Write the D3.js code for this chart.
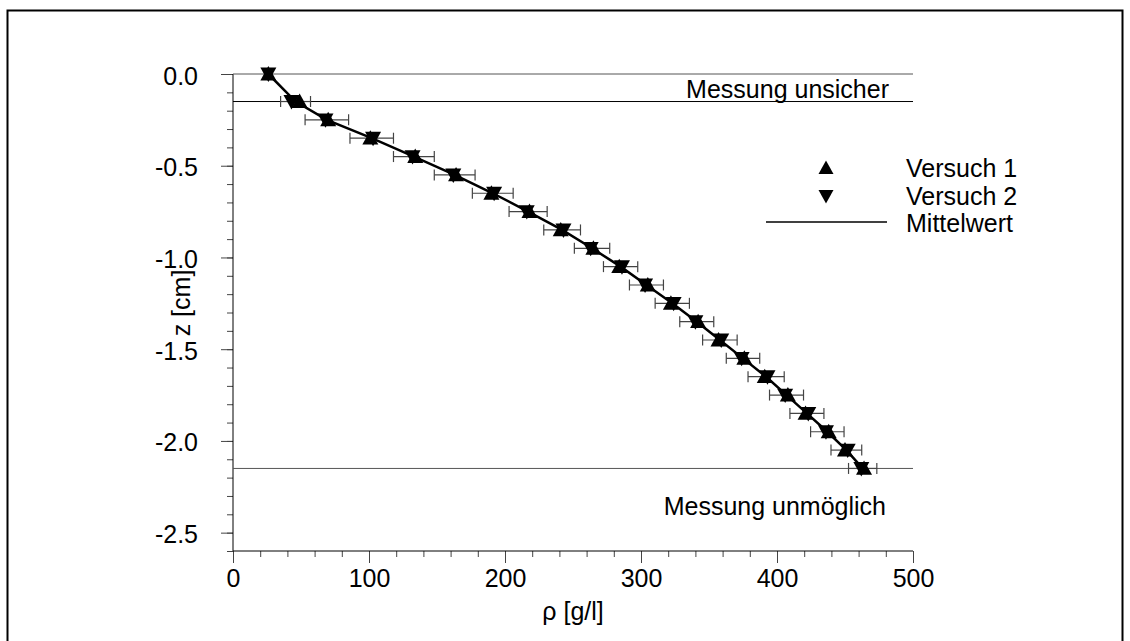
<!DOCTYPE html>
<html>
<head>
<meta charset="utf-8">
<script src="https://cdn.jsdelivr.net/npm/d3@7"></script>
<style>
  body { margin: 0; background: #fff; }
  svg { font-family: "Liberation Sans", Arial, sans-serif; }
</style>
</head>
<body>
<div id="chart"></div>
<script>
// Depth below surface (cm) for each measurement
const depths = [0, -0.15, -0.25, -0.35, -0.45, -0.55, -0.65, -0.75, -0.85, -0.95, -1.05,
  -1.15, -1.25, -1.35, -1.45, -1.55, -1.65, -1.75, -1.85, -1.95, -2.05, -2.15];
// Density readings (g/l)
const versuch1 = [26, 49, 70, 101, 134, 164, 190, 218, 241, 265, 284,
  305, 322, 342, 357, 376, 391, 408, 421, 438, 450, 464];
const versuch2 = [26, 43, 68, 103, 132, 162, 192, 216, 243, 263, 286,
  303, 324, 340, 359, 374, 393, 406, 423, 436, 452, 462];
const mittelwert = [26, 46, 69, 102, 133, 163, 191, 217, 242, 264, 285,
  304, 323, 341, 358, 375, 392, 407, 422, 437, 451, 463];
const fehler = [0, 11, 16, 16, 15, 15, 15, 14, 13.5, 13, 12.6,
  12.5, 12.6, 12.5, 12.7, 12.3, 13.3, 12.5, 12.5, 12.3, 11.3, 10.4];
// Boundary lines
const grenzen = [0, -0.15, -2.15];
const xTicks = [0, 100, 200, 300, 400, 500];
const yTicks = [0, -0.5, -1.0, -1.5, -2.0, -2.5];

const width = 1130, height = 641;
const fs = 25;
const svg = d3.select('#chart').append('svg')
  .attr('width', width).attr('height', height);

// Outer frame
svg.append('rect')
  .attr('x', 7.5).attr('y', 10.5).attr('width', 1115).attr('height', 700)
  .attr('fill', 'none').attr('stroke', '#000').attr('stroke-width', 2);

const x = d3.scaleLinear().domain([0, 500]).range([233, 913]);
const y = d3.scaleLinear().domain([-2.6, 0]).range([551, 74]);

// x axis: minor ticks every 20, labelled ticks every 100
const gx = svg.append('g').attr('transform', `translate(0,${y(-2.6)})`);
gx.append('g').call(d3.axisBottom(x).tickValues(d3.range(0, 501, 20)).tickSize(6).tickFormat(''))
  .call(g => g.select('.domain').remove());
const gxMajor = gx.append('g').call(d3.axisBottom(x).tickValues(xTicks).tickSize(12).tickFormat(d3.format('d')))
  .call(g => g.select('.domain').remove());
gx.selectAll('line').attr('stroke', '#444');
gxMajor.selectAll('text').attr('font-size', fs).attr('fill', '#000')
  .attr('y', 36).attr('dy', 0)
  .attr('font-family', '"Liberation Sans", Arial, sans-serif');
gx.append('line').attr('x1', x(0)).attr('x2', x(500)).attr('stroke', '#000');

// y axis: minor ticks every 0.1
const gy = svg.append('g').attr('transform', `translate(${x(0)},0)`);
gy.append('g').call(d3.axisLeft(y).tickValues(d3.range(0, 27).map(i => -i / 10)).tickSize(6).tickFormat(''))
  .call(g => g.select('.domain').remove());
const gyMajor = gy.append('g').call(d3.axisLeft(y).tickValues(yTicks).tickSize(12))
  .call(g => g.select('.domain').remove());
gy.selectAll('line').attr('stroke', '#444');
gyMajor.selectAll('text').attr('font-size', fs).attr('fill', '#000')
  .attr('x', -35).attr('dy', '0.4em')
  .attr('font-family', '"Liberation Sans", Arial, sans-serif')
  .text(d => d3.format('.1f')(d).replace('−', '-'));
gy.append('line').attr('y1', y(0)).attr('y2', y(-2.6)).attr('stroke', '#000');

// Axis titles
svg.append('text').attr('x', (x(0) + x(500)) / 2).attr('y', 620)
  .attr('text-anchor', 'middle').attr('font-size', fs).text('ρ [g/l]');
svg.append('text').attr('transform', 'translate(190,303) rotate(-90)')
  .attr('text-anchor', 'middle').attr('font-size', fs).text('z [cm]');

// Boundary lines
svg.selectAll('.grenze').data(grenzen).enter().append('line')
  .attr('class', 'grenze')
  .attr('x1', x(0)).attr('x2', x(500))
  .attr('y1', d => y(d)).attr('y2', d => y(d))
  .attr('stroke', (d, i) => i === 1 ? '#000' : '#555').attr('stroke-width', 1);

svg.append('text').attr('x', 889).attr('y', 98).attr('text-anchor', 'end')
  .attr('font-size', fs).text('Messung unsicher');
svg.append('text').attr('x', 886).attr('y', 515).attr('text-anchor', 'end')
  .attr('font-size', fs).text('Messung unmöglich');

// Error bars on the mean
const bars = svg.append('g').attr('stroke', '#444').attr('stroke-width', 1.2);
depths.forEach((z, i) => {
  if (!fehler[i]) return;
  const yy = y(z), x1 = x(mittelwert[i] - fehler[i]), x2 = x(mittelwert[i] + fehler[i]);
  bars.append('line').attr('x1', x1).attr('x2', x2).attr('y1', yy).attr('y2', yy);
  bars.append('line').attr('x1', x1).attr('x2', x1).attr('y1', yy - 5.5).attr('y2', yy + 5.5);
  bars.append('line').attr('x1', x2).attr('x2', x2).attr('y1', yy - 5.5).attr('y2', yy + 5.5);
});

// Mean line
const line = d3.line().x((d, i) => x(d)).y((d, i) => y(depths[i]));
svg.append('path').datum(mittelwert).attr('d', line)
  .attr('fill', 'none').attr('stroke', '#000').attr('stroke-width', 2.5);

// Triangle markers
const up = (cx, cy, s) => `M${cx},${cy - s * 0.5}L${cx + s / 2},${cy + s * 0.4}L${cx - s / 2},${cy + s * 0.4}Z`;
const down = (cx, cy, s) => `M${cx},${cy + s * 0.5}L${cx + s / 2},${cy - s * 0.4}L${cx - s / 2},${cy - s * 0.4}Z`;

svg.selectAll('.v1').data(versuch1).enter().append('path')
  .attr('class', 'v1').attr('d', (d, i) => up(x(d), y(depths[i]), 16)).attr('fill', '#000');
svg.selectAll('.v2').data(versuch2).enter().append('path')
  .attr('class', 'v2').attr('d', (d, i) => down(x(d), y(depths[i]), 16)).attr('fill', '#000');

// Legend
svg.append('path').attr('d', up(826, 168, 15)).attr('fill', '#000');
svg.append('path').attr('d', down(826, 196, 15)).attr('fill', '#000');
svg.append('line').attr('x1', 766).attr('x2', 887).attr('y1', 222).attr('y2', 222)
  .attr('stroke', '#000').attr('stroke-width', 1.5);
const legendLabels = ['Versuch 1', 'Versuch 2', 'Mittelwert'];
svg.selectAll('.leg').data(legendLabels).enter().append('text')
  .attr('class', 'leg').attr('x', 906).attr('y', (d, i) => 177 + i * 27.5)
  .attr('font-size', fs).text(d => d);
</script>
</body>
</html>
